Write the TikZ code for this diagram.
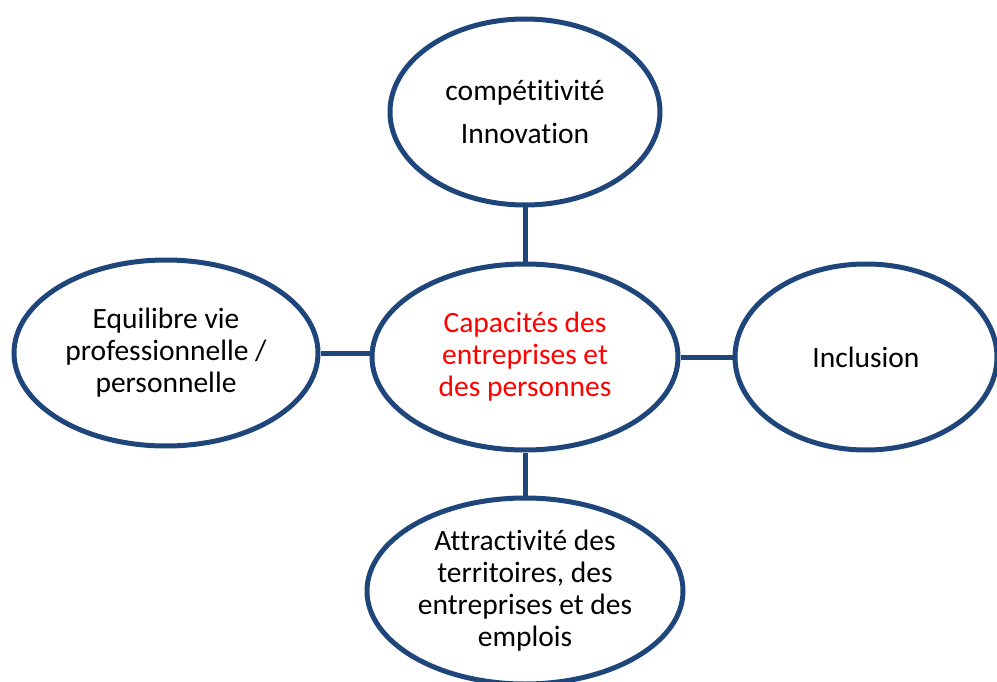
\documentclass[tikz,border=0pt]{standalone}
\usepackage{fontspec}
\setmainfont[Ligatures={NoCommon}]{Carlito}
\usetikzlibrary{shapes.geometric}
\definecolor{navy}{RGB}{31,70,122}
\definecolor{capred}{RGB}{255,0,0}
\tikzset{
  bubble/.style={ellipse, draw=navy, line width=5pt, fill=white, inner sep=0pt,
    align=center, font=\fontsize{29.5}{32}\selectfont},
  link/.style={draw=navy, line width=5pt}
}
\begin{document}
\begin{tikzpicture}[x=1pt,y=-1pt]
\useasboundingbox (0,0) rectangle (997,682);
\node[bubble, minimum width=270pt, minimum height=186pt] (top) at (525,112)
  {compétitivité\\[11pt]Innovation};
\node[bubble, minimum width=306pt, minimum height=186pt, text=capred] (mid) at (525,357)
  {Capacités des\\entreprises et\\des personnes};
\node[bubble, minimum width=304pt, minimum height=186pt] (left) at (166,353)
  {Equilibre vie\\professionnelle /\\personnelle};
\node[bubble, minimum width=262pt, minimum height=186pt] (right) at (866,357)
  {Inclusion};
\node[bubble, minimum width=316pt, minimum height=186pt] (bot) at (525,591)
  {Attractivité des\\territoires, des\\entreprises et des\\emplois};
\draw[link] (top.south) -- (mid.north);
\draw[link] (mid.south) -- (bot.north);
\draw[link] (left.east) -- (mid.west |- left.east);
\draw[link] (mid.east) -- (right.west);
\end{tikzpicture}
\end{document}
